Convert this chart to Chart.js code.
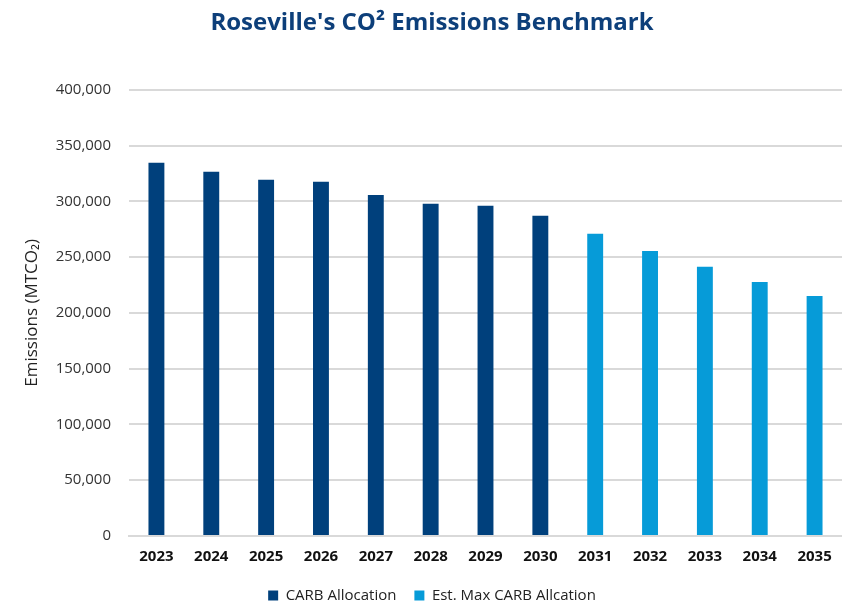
<!DOCTYPE html>
<html>
<head>
<meta charset="utf-8">
<script src="https://cdn.jsdelivr.net/npm/chart.js@4"></script>
<style>
  html, body { margin: 0; padding: 0; background: #fff; }
  #wrap { width: 842px; height: 603px; }
</style>
</head>
<body>
<div id="wrap"><canvas id="co2Chart"></canvas></div>
<script>
const years = ['2023', '2024', '2025', '2026', '2027', '2028', '2029', '2030', '2031', '2032', '2033', '2034', '2035'];
const carbAllocation = [334500, 326500, 319300, 317500, 305800, 297800, 296000, 287000, null, null, null, null, null];
const estMaxAllocation = [null, null, null, null, null, null, null, null, 270900, 255600, 241300, 227800, 215200];
const yTicks = [0, 50000, 100000, 150000, 200000, 250000, 300000, 350000, 400000];

const darkBlue = '#00407c';
const lightBlue = '#069bd8';
const textColor = '#222222';
const gridColor = '#d9d9d9';
const fontFamily = '"Open Sans", "Liberation Sans", sans-serif';

const chart = new Chart(document.getElementById('co2Chart'), {
    type: 'bar',
    data: {
        labels: years,
        datasets: [
            { label: 'CARB Allocation', data: carbAllocation, backgroundColor: darkBlue },
            { label: 'Est. Max CARB Allcation', data: estMaxAllocation, backgroundColor: lightBlue }
        ]
    },
    options: {
        responsive: true,
        maintainAspectRatio: false,
        animation: false,
        grouped: false,
        barPercentage: 0.29,
        categoryPercentage: 1,
        layout: { padding: { top: 9, left: 22, right: 0, bottom: -10 } },
        plugins: {
            title: {
                display: true,
                text: "Roseville's CO² Emissions Benchmark",
                color: '#0d3f7a',
                font: { family: fontFamily, size: 24, weight: 'bold' },
                padding: { top: 0, bottom: 52 }
            },
            legend: {
                position: 'bottom',
                labels: {
                    color: textColor,
                    boxWidth: 10,
                    boxHeight: 10,
                    padding: 18,
                    font: { family: fontFamily, size: 15 }
                }
            },
            tooltip: { enabled: false }
        },
        scales: {
            x: {
                grid: { display: false },
                border: { display: true, color: gridColor, width: 2 },
                ticks: {
                    color: '#111',
                    padding: 4,
                    font: { family: fontFamily, size: 15, weight: 'bold' }
                }
            },
            y: {
                min: 0,
                max: 400000,
                afterBuildTicks: axis => { axis.ticks = yTicks.map(v => ({ value: v })); },
                afterFit: axis => { axis.width = 107; },
                grid: { color: gridColor, lineWidth: 2, drawTicks: false },
                border: { display: false },
                title: {
                    display: true,
                    text: 'Emissions (MTCO₂)',
                    color: textColor,
                    font: { family: fontFamily, size: 17 },
                    padding: { top: 0, bottom: 4 }
                },
                ticks: {
                    color: '#333',
                    padding: 18,
                    font: { family: fontFamily, size: 15 },
                    callback: v => v.toLocaleString('en-US')
                }
            }
        }
    }
});
</script>
</body>
</html>
